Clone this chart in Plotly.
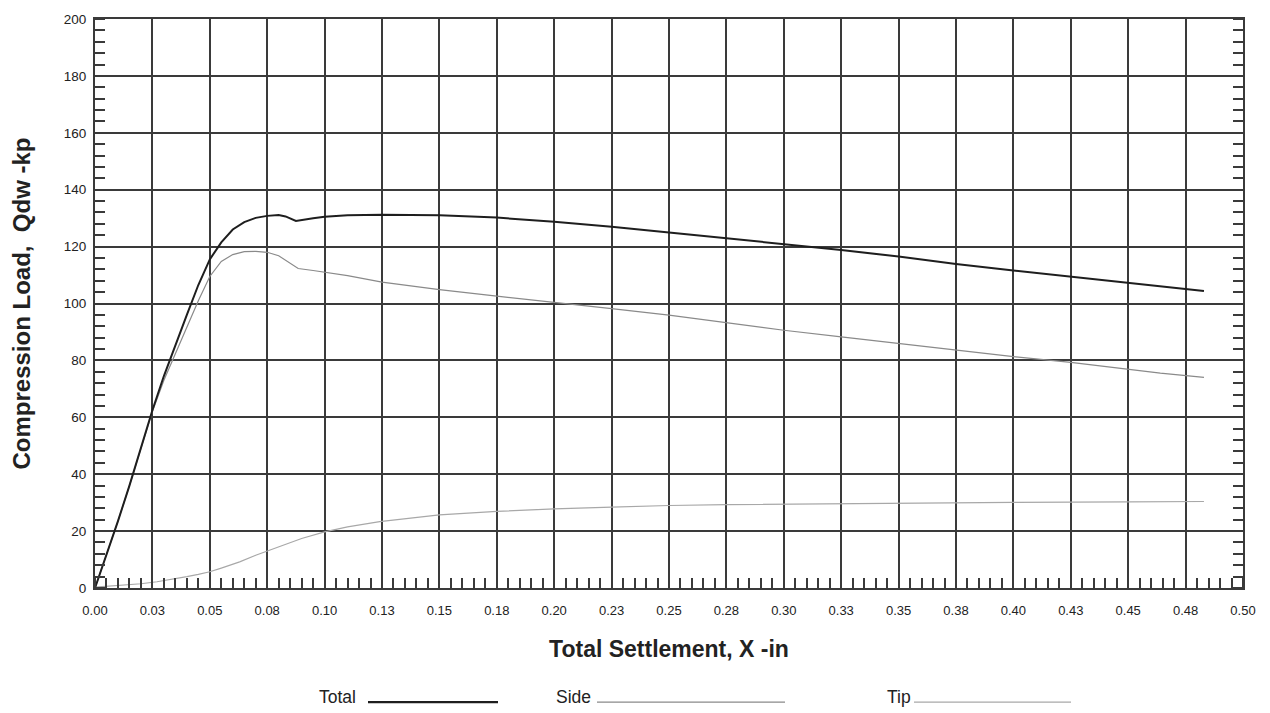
import plotly.graph_objects as go

# Load-settlement data (settlement in inches, load in kips)
total_x = [0.0, 0.005, 0.01, 0.015, 0.02, 0.025, 0.03, 0.035, 0.04, 0.045, 0.05, 0.055,
           0.06, 0.065, 0.07, 0.075, 0.08, 0.083, 0.0875, 0.095, 0.1, 0.11, 0.125, 0.15,
           0.175, 0.2, 0.225, 0.25, 0.275, 0.3, 0.325, 0.35, 0.375, 0.4, 0.425, 0.45,
           0.464, 0.483]
total_y = [0.0, 11.5, 23.5, 36.0, 49.0, 62.5, 74.5, 85.5, 96.0, 106.5, 115.5, 121.5,
           126.0, 128.6, 130.1, 130.8, 131.1, 130.6, 129.0, 130.0, 130.5, 131.0, 131.2, 131.0,
           130.2, 128.7, 127.0, 125.0, 123.0, 120.9, 118.8, 116.5, 113.9, 111.6, 109.5, 107.3,
           106.0, 104.4]

side_x = [0.0, 0.005, 0.01, 0.015, 0.02, 0.025, 0.03, 0.035, 0.04, 0.045, 0.05, 0.055,
          0.06, 0.065, 0.07, 0.075, 0.08, 0.085, 0.0885, 0.095, 0.1, 0.11, 0.125, 0.15,
          0.175, 0.2, 0.225, 0.25, 0.275, 0.3, 0.325, 0.35, 0.375, 0.4, 0.425, 0.45,
          0.464, 0.483]
side_y = [0.0, 11.5, 23.5, 36.0, 49.0, 62.0, 73.0, 82.5, 92.0, 101.0, 109.5, 114.8,
          117.2, 118.2, 118.3, 118.0, 116.8, 114.0, 112.3, 111.6, 111.0, 109.8, 107.5, 104.9,
          102.6, 100.5, 98.2, 95.9, 93.3, 90.6, 88.3, 86.0, 83.7, 81.3, 79.3, 76.9,
          75.5, 74.0]

tip_x = [0.0, 0.01, 0.02, 0.027, 0.035, 0.04, 0.045, 0.05, 0.055, 0.063, 0.07, 0.076,
         0.085, 0.09, 0.1, 0.11, 0.124, 0.15, 0.175, 0.2, 0.225, 0.25, 0.275, 0.3,
         0.325, 0.35, 0.4, 0.45, 0.483]
tip_y = [0.3, 0.8, 1.5, 2.2, 3.2, 4.0, 4.8, 5.7, 7.0, 9.2, 11.5, 13.3,
         16.0, 17.4, 19.7, 21.5, 23.3, 25.7, 26.9, 27.8, 28.4, 29.0, 29.3, 29.5,
         29.7, 29.9, 30.1, 30.3, 30.4]

x_tick_vals = [i * 0.025 for i in range(21)]
x_tick_text = ["0.00", "0.03", "0.05", "0.08", "0.10", "0.13", "0.15", "0.18", "0.20",
               "0.23", "0.25", "0.28", "0.30", "0.33", "0.35", "0.38", "0.40", "0.43",
               "0.45", "0.48", "0.50"]
y_tick_vals = list(range(0, 201, 20))

FONT = "Liberation Sans, Arial, sans-serif"
GRID = "#3a3a3a"
TXT = "#222222"

fig = go.Figure()
fig.add_trace(go.Scatter(x=tip_x, y=tip_y, mode="lines", name="Tip",
                         line=dict(color="#a8a8a8", width=1.2)))
fig.add_trace(go.Scatter(x=side_x, y=side_y, mode="lines", name="Side",
                         line=dict(color="#8a8a8a", width=1.2)))
fig.add_trace(go.Scatter(x=total_x, y=total_y, mode="lines", name="Total",
                         line=dict(color="#1e1e1e", width=2)))

fig.update_xaxes(
    range=[0, 0.5], tickvals=x_tick_vals, ticktext=x_tick_text,
    showgrid=True, gridcolor=GRID, gridwidth=1.5,
    showline=True, linecolor=GRID, linewidth=2, mirror=True,
    ticks="", zeroline=False, ticklabelstandoff=9,
    minor=dict(dtick=0.005, tick0=0, ticks="inside", ticklen=10,
               tickcolor=GRID, tickwidth=1.5, showgrid=False),
    tickfont=dict(family=FONT, size=13, color=TXT),
    title=dict(text="<b>Total Settlement, X -in</b>",
               font=dict(family=FONT, size=23, color=TXT), standoff=24),
)
fig.update_yaxes(
    range=[0, 200], tickvals=y_tick_vals,
    showgrid=True, gridcolor=GRID, gridwidth=1.5,
    showline=True, linecolor=GRID, linewidth=2, mirror="ticks",
    ticks="", zeroline=False, ticklabelstandoff=4,
    minor=dict(dtick=4, tick0=0, ticks="inside", ticklen=10,
               tickcolor=GRID, tickwidth=1.5, showgrid=False),
    tickfont=dict(family=FONT, size=13.5, color=TXT),
    title=dict(text="<b>Compression Load,  Qdw -kp</b>",
               font=dict(family=FONT, size=24, color=TXT), standoff=26),
)

# Legend drawn below the axis title: label followed by a line sample
def px_x(p):
    return (p - 95) / 1148.0

def px_y(p):
    return (588 - p) / 573.0

legend_items = [
    ("Total", 337, 368, 498, "#1e1e1e", 2.2),
    ("Side", 573, 597, 785, "#8a8a8a", 1.2),
    ("Tip", 899, 914, 1071, "#a8a8a8", 1.2),
]
for label, tx, x0, x1, col, w in legend_items:
    fig.add_annotation(x=px_x(tx), y=px_y(698), xref="paper", yref="paper",
                       text=label, showarrow=False, xanchor="center", yanchor="middle",
                       font=dict(family=FONT, size=17.5, color=TXT))
    fig.add_shape(type="line", xref="paper", yref="paper",
                  x0=px_x(x0), x1=px_x(x1), y0=px_y(703), y1=px_y(703),
                  line=dict(color=col, width=w))

fig.update_layout(
    width=1270, height=713,
    margin=dict(l=95, r=27, t=15, b=125),
    paper_bgcolor="white", plot_bgcolor="white",
    showlegend=False,
)

fig.write_html("out.html")
